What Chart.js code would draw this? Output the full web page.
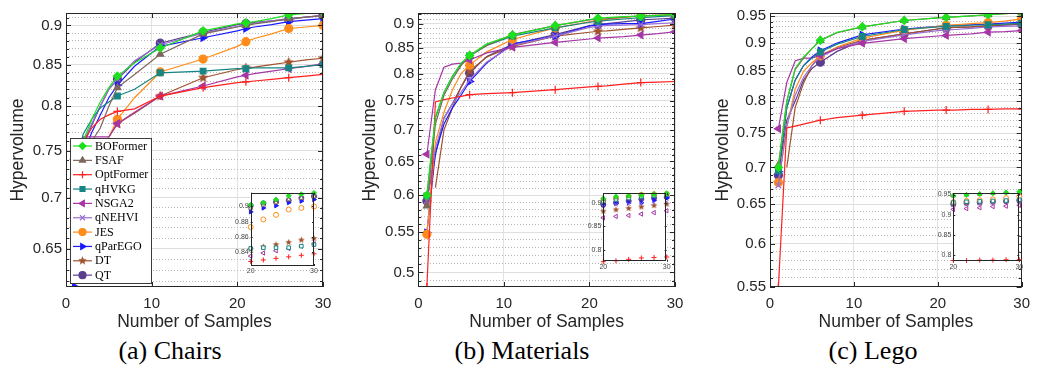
<!DOCTYPE html>
<html>
<head>
<meta charset="utf-8">
<script src="https://cdn.jsdelivr.net/npm/chart.js@4.4.1/dist/chart.umd.min.js"></script>
<style>
  body { margin: 0; background: #fff; width: 1038px; height: 371px; position: relative; overflow: hidden; }
  canvas { position: absolute; }
  .cap { position: absolute; top: 336px; width: 300px; text-align: center; font-family: "Liberation Serif", "Times New Roman", serif; font-size: 26px; line-height: 30px; color: #000; }
</style>
</head>
<body>
<canvas id="chairs" width="346" height="335" style="left:0;top:0"></canvas>
<canvas id="materials" width="346" height="335" style="left:346px;top:0"></canvas>
<canvas id="lego" width="346" height="335" style="left:692px;top:0"></canvas>
<canvas id="chairsInset" width="100" height="92" style="left:222px;top:186px"></canvas>
<canvas id="materialsInset" width="100" height="86" style="left:575px;top:187px"></canvas>
<canvas id="legoInset" width="102" height="86" style="left:925px;top:187px"></canvas>
<div class="cap" style="left:20px">(a) Chairs</div>
<div class="cap" style="left:372px">(b) Materials</div>
<div class="cap" style="left:723px">(c) Lego</div>
<script>
const SAMPLES = [1, 2, 3, 4, 5, 6, 8, 11, 16, 20, 21, 22, 24, 26, 28, 30];
const MARKED = [1, 6, 11, 16, 21, 26, 30];
const INSET_X = [20, 22, 24, 26, 28, 30];
const METHODS = ['BOFormer', 'FSAF', 'OptFormer', 'qHVKG', 'NSGA2', 'qNEHVI', 'JES', 'qParEGO', 'DT', 'QT'];
const COLORS = ['#1ee01e', '#7d665e', '#ff2020', '#178585', '#a635a6', '#9a6fd3', '#ff8c1a', '#1a1aff', '#a0522d', '#5b3d8e'];

// (a) Chairs
const chairsBOFormer  = [0.72, 0.76, 0.785, 0.805, 0.822, 0.836, 0.852, 0.871, 0.893, 0.902, 0.9035, 0.905, 0.909, 0.914, 0.916, 0.9177];
const chairsFSAF      = [0.70, 0.74, 0.76, 0.775, 0.80, 0.822, 0.838, 0.863, 0.889, 0.898, 0.900, 0.902, 0.905, 0.909, 0.911, 0.913];
const chairsOptFormer = [0.74, 0.76, 0.775, 0.785, 0.79, 0.794, 0.797, 0.812, 0.822, 0.828, 0.829, 0.830, 0.832, 0.834, 0.836, 0.838];
const chairsqHVKG     = [0.73, 0.768, 0.785, 0.798, 0.805, 0.812, 0.82, 0.840, 0.842, 0.845, 0.845, 0.846, 0.846, 0.846, 0.848, 0.850];
const chairsNSGA2     = [0.70, 0.765, 0.765, 0.765, 0.765, 0.780, 0.793, 0.812, 0.824, 0.835, 0.837, 0.839, 0.842, 0.845, 0.848, 0.851];
const chairsqNEHVI    = [0.72, 0.758, 0.78, 0.80, 0.82, 0.833, 0.855, 0.875, 0.890, 0.899, 0.901, 0.903, 0.906, 0.909, 0.911, 0.913];
const chairsJES       = [0.70, 0.72, 0.735, 0.75, 0.765, 0.785, 0.81, 0.841, 0.857, 0.873, 0.879, 0.883, 0.889, 0.896, 0.898, 0.900];
const chairsqParEGO   = [0.615, 0.745, 0.77, 0.79, 0.81, 0.825, 0.848, 0.873, 0.884, 0.893, 0.896, 0.898, 0.901, 0.905, 0.907, 0.909];
const chairsDT        = [0.70, 0.72, 0.735, 0.75, 0.765, 0.780, 0.792, 0.812, 0.834, 0.844, 0.846, 0.847, 0.850, 0.853, 0.856, 0.858];
const chairsQT        = [0.72, 0.755, 0.778, 0.80, 0.82, 0.832, 0.853, 0.877, 0.891, 0.901, 0.9026, 0.904, 0.906, 0.908, 0.911, 0.9135];

// (b) Materials
const matBOFormer  = [0.600, 0.722, 0.765, 0.795, 0.82, 0.835, 0.858, 0.876, 0.896, 0.909, 0.912, 0.913, 0.915, 0.916, 0.918, 0.920];
const matFSAF      = [0.585, 0.71, 0.76, 0.79, 0.815, 0.835, 0.855, 0.877, 0.896, 0.908, 0.910, 0.911, 0.914, 0.917, 0.918, 0.919];
const matOptFormer = [0.483, 0.748, 0.752, 0.755, 0.758, 0.761, 0.763, 0.7645, 0.770, 0.775, 0.776, 0.777, 0.780, 0.783, 0.784, 0.785];
const matqHVKG     = [0.599, 0.72, 0.765, 0.795, 0.818, 0.834, 0.855, 0.874, 0.891, 0.903, 0.905, 0.907, 0.910, 0.913, 0.915, 0.917];
const matNSGA2     = [0.661, 0.770, 0.812, 0.818, 0.82, 0.826, 0.84, 0.851, 0.861, 0.868, 0.870, 0.871, 0.873, 0.876, 0.879, 0.883];
const matqNEHVI    = [0.592, 0.67, 0.72, 0.745, 0.765, 0.788, 0.822, 0.855, 0.874, 0.892, 0.895, 0.896, 0.897, 0.898, 0.900, 0.902];
const matJES       = [0.547, 0.68, 0.73, 0.77, 0.80, 0.816, 0.842, 0.867, 0.891, 0.904, 0.907, 0.909, 0.913, 0.917, 0.918, 0.919];
const matqParEGO   = [0.549, 0.663, 0.71, 0.738, 0.76, 0.785, 0.82, 0.858, 0.874, 0.895, 0.898, 0.899, 0.900, 0.900, 0.905, 0.910];
const matDT        = [null, 0.611, 0.70, 0.738, 0.775, 0.805, 0.832, 0.853, 0.874, 0.882, 0.884, 0.885, 0.888, 0.891, 0.894, 0.897];
const matQT        = [0.592, 0.66, 0.72, 0.745, 0.775, 0.801, 0.833, 0.857, 0.877, 0.896, 0.898, 0.900, 0.904, 0.908, 0.910, 0.912];

// (c) Lego
const legoBOFormer  = [0.70, 0.80, 0.855, 0.875, 0.89, 0.905, 0.92, 0.930, 0.942, 0.947, 0.948, 0.949, 0.951, 0.953, 0.955, 0.957];
const legoFSAF      = [0.703, 0.80, 0.853, 0.873, 0.89, 0.905, 0.919, 0.930, 0.942, 0.947, 0.948, 0.949, 0.951, 0.953, 0.955, 0.957];
const legoOptFormer = [0.55, 0.758, 0.761, 0.764, 0.767, 0.770, 0.774, 0.778, 0.784, 0.786, 0.786, 0.786, 0.787, 0.787, 0.788, 0.788];
const legoqHVKG     = [0.695, 0.79, 0.835, 0.86, 0.873, 0.884, 0.898, 0.912, 0.925, 0.930, 0.931, 0.932, 0.933, 0.934, 0.935, 0.937];
const legoNSGA2     = [0.757, 0.831, 0.868, 0.873, 0.873, 0.878, 0.89, 0.8995, 0.908, 0.913, 0.914, 0.915, 0.917, 0.920, 0.921, 0.923];
const legoqNEHVI    = [0.675, 0.76, 0.81, 0.84, 0.86, 0.875, 0.89, 0.903, 0.915, 0.923, 0.924, 0.925, 0.927, 0.930, 0.931, 0.932];
const legoJES       = [0.679, 0.76, 0.82, 0.85, 0.865, 0.877, 0.893, 0.909, 0.924, 0.931, 0.933, 0.934, 0.936, 0.938, 0.941, 0.945];
const legoqParEGO   = [0.694, 0.79, 0.835, 0.86, 0.875, 0.886, 0.90, 0.915, 0.926, 0.931, 0.932, 0.933, 0.934, 0.935, 0.937, 0.939];
const legoDT        = [null, 0.70, 0.79, 0.83, 0.86, 0.878, 0.892, 0.905, 0.917, 0.926, 0.928, 0.929, 0.930, 0.932, 0.934, 0.936];
const legoQT        = [0.689, 0.77, 0.80, 0.835, 0.855, 0.866, 0.885, 0.905, 0.917, 0.926, 0.928, 0.929, 0.930, 0.932, 0.933, 0.935];

const chairsSeries = [chairsBOFormer, chairsFSAF, chairsOptFormer, chairsqHVKG, chairsNSGA2, chairsqNEHVI, chairsJES, chairsqParEGO, chairsDT, chairsQT];
const matSeries = [matBOFormer, matFSAF, matOptFormer, matqHVKG, matNSGA2, matqNEHVI, matJES, matqParEGO, matDT, matQT];
const legoSeries = [legoBOFormer, legoFSAF, legoOptFormer, legoqHVKG, legoNSGA2, legoqNEHVI, legoJES, legoqParEGO, legoDT, legoQT];

// inset axis ticks
const chairsInsetTicks = [0.84, 0.86, 0.88, 0.9];
const matInsetTicks = [0.8, 0.85, 0.9];
const legoInsetTicks = [0.8, 0.85, 0.9, 0.95];

const FONT = '"Liberation Sans", Arial, Helvetica, sans-serif';
const TEXT = '#262626';

function starImage(color, r) {
    const c = document.createElement('canvas');
    const s = Math.ceil(r * 2 + 2);
    c.width = c.height = s;
    const g = c.getContext('2d');
    g.beginPath();
    for (let i = 0; i < 10; i++) {
        const a = -Math.PI / 2 + i * Math.PI / 5;
        const rr = i % 2 ? r * 0.45 : r;
        g.lineTo(s / 2 + rr * Math.cos(a), s / 2 + rr * Math.sin(a));
    }
    g.closePath();
    g.fillStyle = color;
    g.fill();
    return c;
}

const starBig = starImage(COLORS[8], 5.5);
const starSmall = starImage(COLORS[8], 3.5);

const SHAPES = [
    { style: 'rectRot', rot: 0 },
    { style: 'triangle', rot: 0 },
    { style: 'cross', rot: 0 },
    { style: 'rect', rot: 0 },
    { style: 'triangle', rot: -90 },
    { style: 'crossRot', rot: 0 },
    { style: 'circle', rot: 0 },
    { style: 'triangle', rot: 90 },
    { style: 'star', rot: 0 },
    { style: 'circle', rot: 0 }
];

function isMajor(v) {
    return Math.abs(v * 20 - Math.round(v * 20)) < 1e-6;
}

function fmt(v) {
    return String(Math.round(v * 100) / 100);
}

// 0.01 step ticks, labels only every 0.05
function logTicks(min, max) {
    const out = [];
    for (let k = Math.ceil(min * 100 - 1e-6); k <= Math.floor(max * 100 + 1e-6); k++) {
        out.push({ value: k / 100, major: isMajor(k / 100) });
    }
    return out;
}

// black box with inward tick marks, like the MATLAB axes
function boxPlugin(majorLen, minorLen) {
    return {
        id: 'box',
        afterDraw(chart) {
            const { ctx, chartArea: a, scales } = chart;
            ctx.save();
            ctx.strokeStyle = TEXT;
            ctx.lineWidth = 1;
            ctx.strokeRect(Math.round(a.left) + 0.5, Math.round(a.top) + 0.5,
                Math.round(a.right - a.left) - 1, Math.round(a.bottom - a.top) - 1);
            ctx.beginPath();
            scales.y.ticks.forEach(t => {
                const y = Math.round(scales.y.getPixelForValue(t.value)) + 0.5;
                const len = isMajor(t.value) ? majorLen : minorLen;
                ctx.moveTo(a.left, y); ctx.lineTo(a.left + len, y);
                ctx.moveTo(a.right, y); ctx.lineTo(a.right - len, y);
            });
            scales.x.ticks.forEach(t => {
                const x = Math.round(scales.x.getPixelForValue(t.value)) + 0.5;
                ctx.moveTo(x, a.bottom); ctx.lineTo(x, a.bottom - majorLen);
                ctx.moveTo(x, a.top); ctx.lineTo(x, a.top + majorLen);
            });
            ctx.stroke();
            ctx.restore();
        }
    };
}

const legendPlugin = {
    id: 'boxLegend',
    afterDraw(chart) {
        const ctx = chart.ctx;
        ctx.save();
        ctx.fillStyle = '#fff';
        ctx.fillRect(70.5, 138.5, 81, 145);
        ctx.strokeStyle = '#3c3c3c';
        ctx.lineWidth = 1;
        ctx.strokeRect(70.5, 138.5, 81, 145);
        chart.data.datasets.forEach((ds, i) => {
            const y = 146 + i * 14.35;
            ctx.strokeStyle = ds.borderColor;
            ctx.lineWidth = 1.2;
            ctx.beginPath();
            ctx.moveTo(73, y); ctx.lineTo(92, y);
            ctx.stroke();
            ctx.fillStyle = ds.borderColor;
            const ps = i === 8 ? starImage(COLORS[8], 4.5) : ds.pointStyle;
            Chart.helpers.drawPoint(ctx, { pointStyle: ps, rotation: ds.pointRotation || 0, radius: 3.5, borderWidth: 1.2 }, 82.5, y);
            ctx.fillStyle = '#000';
            ctx.font = '12px "Liberation Serif", "Times New Roman", serif';
            ctx.textBaseline = 'middle';
            ctx.fillText(ds.label, 95, y + 0.5);
        });
        ctx.restore();
    }
};

const whiteArea = {
    id: 'whiteArea',
    beforeDraw(chart) {
        const a = chart.chartArea;
        chart.ctx.save();
        chart.ctx.fillStyle = '#fff';
        chart.ctx.fillRect(a.left, a.top, a.right - a.left, a.bottom - a.top);
        chart.ctx.restore();
    }
};

function mainDatasets(series) {
    return series.map((vals, i) => ({
        label: METHODS[i],
        data: SAMPLES.map((x, j) => ({ x: x, y: vals[j] })),
        borderColor: COLORS[i],
        backgroundColor: COLORS[i],
        pointBackgroundColor: COLORS[i],
        pointBorderColor: COLORS[i],
        borderWidth: 1.2,
        pointStyle: i === 8 ? starBig : SHAPES[i].style,
        pointRotation: SHAPES[i].rot,
        pointRadius: c => (c.raw && MARKED.includes(c.raw.x)) ? 4 : 0,
        pointBorderWidth: 1.2,
        tension: 0,
        spanGaps: false
    }));
}

function mainChart(id, series, yMin, yMax, yAxisW, padRight, titlePad, withLegend) {
    const plugins = [boxPlugin(5, 3)];
    if (withLegend) plugins.push(legendPlugin);
    return new Chart(document.getElementById(id), {
        type: 'line',
        data: { datasets: mainDatasets(series) },
        options: {
            responsive: false,
            animation: false,
            devicePixelRatio: 1,
            layout: { padding: { top: 10, right: padRight, bottom: 0, left: 0 } },
            scales: {
                x: {
                    type: 'linear', min: 0, max: 30,
                    ticks: { stepSize: 10, font: { family: FONT, size: 15 }, color: TEXT, padding: 8, maxRotation: 0 },
                    afterFit: s => { s.height = 48; },
                    grid: { color: '#e2e2e2', drawTicks: false },
                    border: { display: false },
                    title: { display: true, text: 'Number of Samples', color: TEXT, font: { family: FONT, size: 17.5 }, padding: { top: 0, bottom: 2 } }
                },
                y: {
                    type: 'logarithmic', min: yMin, max: yMax,
                    afterBuildTicks: s => { s.ticks = logTicks(yMin, yMax); },
                    afterFit: s => { s.width = yAxisW; },
                    ticks: {
                        autoSkip: false, font: { family: FONT, size: 15 }, color: TEXT, padding: 4,
                        callback: v => isMajor(v) ? fmt(v) : ''
                    },
                    grid: {
                        drawTicks: false,
                        color: c => (c.tick && isMajor(c.tick.value)) ? '#dedede' : '#b8b8b8'
                    },
                    border: {
                        display: false,
                        dash: c => (c.tick && !isMajor(c.tick.value)) ? [1, 2] : []
                    },
                    title: { display: true, text: 'Hypervolume', color: TEXT, font: { family: FONT, size: 17.5 }, padding: { top: titlePad, bottom: 0 } }
                }
            },
            plugins: { legend: { display: false }, tooltip: { enabled: false } }
        },
        plugins: plugins
    });
}

function insetChart(id, series, yMin, yMax, yTicks, yAxisW, padTop, padRight, xAxisH) {
    const datasets = series.map((vals, i) => ({
        label: METHODS[i],
        data: INSET_X.map(x => ({ x: x, y: vals[SAMPLES.indexOf(x)] })),
        showLine: false,
        clip: false,
        borderColor: COLORS[i],
        pointBorderColor: COLORS[i],
        pointBackgroundColor: [1, 3, 4, 6].includes(i) ? '#fff' : COLORS[i],
        pointStyle: i === 8 ? starSmall : SHAPES[i].style,
        pointRotation: SHAPES[i].rot,
        pointRadius: 2.5,
        pointBorderWidth: 1
    }));
    return new Chart(document.getElementById(id), {
        type: 'scatter',
        data: { datasets: datasets },
        options: {
            responsive: false,
            animation: false,
            devicePixelRatio: 1,
            layout: { padding: { top: padTop, right: padRight, bottom: 0, left: 0 } },
            scales: {
                x: {
                    type: 'linear', min: 20, max: 30,
                    afterBuildTicks: s => { s.ticks = [{ value: 20 }, { value: 30 }]; },
                    afterFit: s => { s.height = xAxisH; },
                    ticks: { font: { family: FONT, size: 7 }, color: '#444', padding: 1, maxRotation: 0 },
                    grid: { display: false, drawTicks: false },
                    border: { display: false }
                },
                y: {
                    type: 'linear', min: yMin, max: yMax,
                    afterBuildTicks: s => { s.ticks = yTicks.map(v => ({ value: v })); },
                    afterFit: s => { s.width = yAxisW; },
                    ticks: { font: { family: FONT, size: 7 }, color: '#444', padding: 2, callback: v => fmt(v) },
                    grid: { display: false, drawTicks: false },
                    border: { display: false }
                }
            },
            plugins: { legend: { display: false }, tooltip: { enabled: false } }
        },
        plugins: [whiteArea, boxPlugin(2, 2)]
    });
}

mainChart('chairs', chairsSeries, 0.6147, 0.9165, 66, 23, 7.5, true);
mainChart('materials', matSeries, 0.483, 0.923, 72.3, 17, 13.5, false);
mainChart('lego', legoSeries, 0.5497, 0.9564, 78, 10.7, 20.5, false);

insetChart('chairsInset', chairsSeries, 0.822, 0.918, chairsInsetTicks, 28.7, 6.7, 8, 12);
insetChart('materialsInset', matSeries, 0.775, 0.92, matInsetTicks, 28.3, 6.3, 8.3, 11.3);
insetChart('legoInset', legoSeries, 0.783, 0.953, legoInsetTicks, 28.3, 6.3, 7.7, 11.3);
</script>
</body>
</html>
